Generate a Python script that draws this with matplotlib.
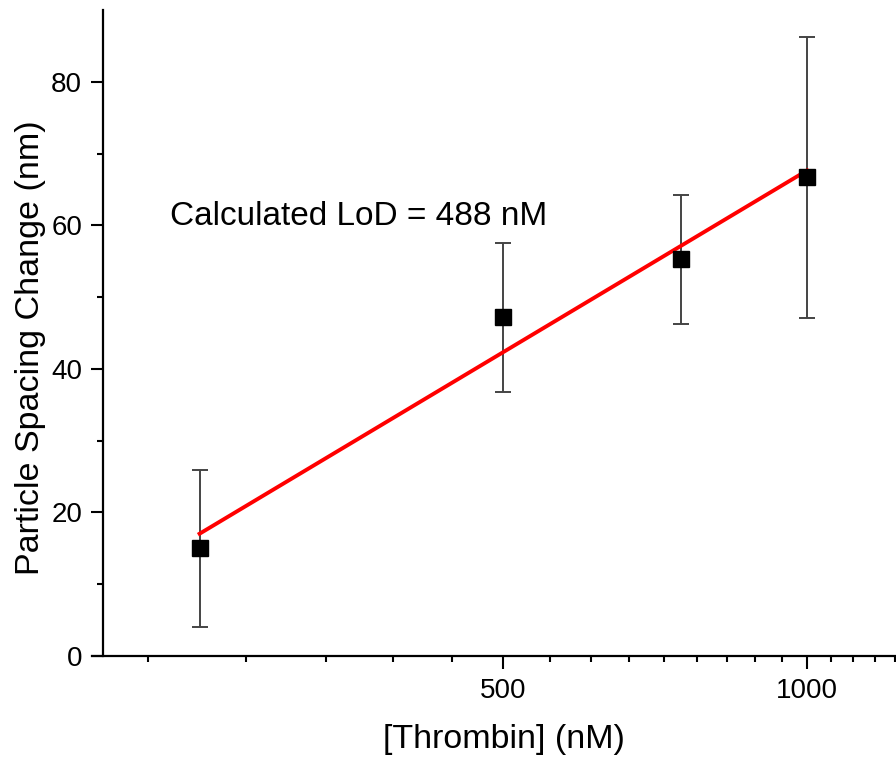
import numpy as np
import matplotlib
matplotlib.use("Agg")
import matplotlib.pyplot as plt
from matplotlib.ticker import FixedLocator, NullFormatter

plt.rcParams['font.family'] = ['Liberation Sans', 'DejaVu Sans']

# data
thrombin = [250, 500, 750, 1000]
spacing = [15.0, 47.2, 55.3, 66.7]
err = [10.9, 10.4, 9.0, 19.6]
x_major = [500, 1000]
x_minor = [222.2, 277.8, 333.3, 388.9, 444.4, 555.6, 611.1, 666.7, 722.2,
           777.8, 833.3, 888.9, 944.4, 1055.6, 1111.1, 1166.7, 1222.2]
y_major = [0, 20, 40, 60, 80]
y_minor = [10, 30, 50, 70]
annotation = "Calculated LoD = 488 nM"

# linear fit in log10(x)
lx = np.log10(thrombin)
slope, intercept = np.polyfit(lx, spacing, 1)
fit_x = np.array([thrombin[0], thrombin[-1]])
fit_y = slope * np.log10(fit_x) + intercept

fig = plt.figure(figsize=(8.96, 7.59), dpi=100)
ax = fig.add_axes([0.103, 0.1357, 0.897, 0.851])

ax.errorbar(thrombin, spacing, yerr=err, fmt='none', ecolor='#444444',
            elinewidth=1.4, capsize=6, capthick=1.4, zorder=2)
ax.plot(fit_x, fit_y, color='#ff0000', lw=2.8, zorder=3)
ax.plot(thrombin, spacing, 's', color='black', ms=11, zorder=4)

ax.set_xscale('log')
ax.set_xlim(195.7, 1225)
ax.set_ylim(0, 90)
ax.spines['left'].set_position(('data', 200.5))
for s in ['top', 'right']:
    ax.spines[s].set_visible(False)
for s in ['left', 'bottom']:
    ax.spines[s].set_linewidth(1.6)

ax.xaxis.set_major_locator(FixedLocator(x_major))
ax.xaxis.set_minor_locator(FixedLocator(x_minor))
ax.xaxis.set_minor_formatter(NullFormatter())
ax.set_xticklabels([str(v) for v in x_major])
ax.yaxis.set_major_locator(FixedLocator(y_major))
ax.yaxis.set_minor_locator(FixedLocator(y_minor))

ax.tick_params(axis='both', which='major', direction='out', length=9, width=1.5,
               labelsize=20)
ax.tick_params(axis='x', which='major', pad=7)
ax.tick_params(axis='y', which='major', pad=6)
ax.tick_params(axis='both', which='minor', direction='out', length=4.5, width=1.5)

ax.set_xlabel("[Thrombin] (nM)", fontsize=24.5, labelpad=14, x=0.512)
ax.set_ylabel("Particle Spacing Change (nm)", fontsize=24.5, labelpad=4, y=0.4775)

ax.text(0.0845 + 10 / 804, 60.0, annotation, transform=ax.get_yaxis_transform(),
        fontsize=24, ha='left', va='baseline')

fig.savefig("out.png", dpi=100)
